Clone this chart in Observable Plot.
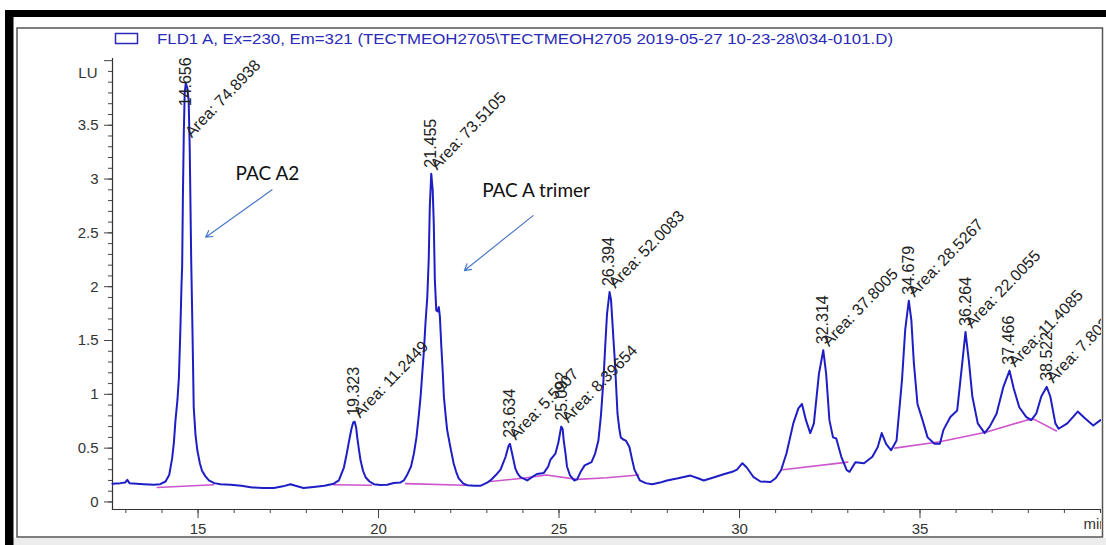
<!DOCTYPE html>
<html>
<head>
<meta charset="utf-8">
<script src="https://cdn.jsdelivr.net/npm/d3@7"></script>
<script src="https://cdn.jsdelivr.net/npm/@observablehq/plot@0.6"></script>
<style>
  html, body { margin: 0; padding: 0; background: #fff; }
  #chart { width: 1106px; height: 545px; }
</style>
</head>
<body>
<div id="chart"></div>
<script>
// ---------- data ----------
const legendText = "FLD1 A, Ex=230, Em=321 (TECTMEOH2705\\TECTMEOH2705 2019-05-27 10-23-28\\034-0101.D)";

// detector trace: [time (min), signal (LU)]
const trace = [
  [12.63,0.17],[12.85,0.175],[12.98,0.18],[13.04,0.205],[13.1,0.175],[13.3,0.17],[13.5,0.165],[13.77,0.16],
  [13.95,0.165],[14.1,0.19],[14.2,0.25],[14.28,0.40],[14.33,0.55],[14.375,0.76],[14.43,0.95],[14.47,1.16],
  [14.51,1.6],[14.54,2.0],[14.56,2.19],[14.58,2.83],[14.605,3.42],[14.63,3.80],[14.66,3.89],[14.7,3.85],
  [14.74,3.73],[14.77,3.27],[14.81,2.25],[14.84,1.7],[14.86,1.3],[14.88,0.88],[14.93,0.62],[14.98,0.48],
  [15.05,0.36],[15.11,0.29],[15.2,0.24],[15.3,0.20],[15.45,0.175],[15.62,0.165],[15.9,0.16],[16.2,0.15],
  [16.5,0.135],[16.8,0.13],[17.1,0.13],[17.35,0.145],[17.56,0.165],[17.7,0.15],[17.92,0.13],[18.2,0.14],
  [18.5,0.15],[18.76,0.17],[18.9,0.2],[19.04,0.32],[19.12,0.45],[19.18,0.56],[19.25,0.68],[19.3,0.74],
  [19.34,0.745],[19.38,0.69],[19.41,0.6],[19.46,0.48],[19.5,0.39],[19.57,0.29],[19.64,0.23],[19.75,0.19],
  [19.87,0.165],[20.05,0.158],[20.24,0.16],[20.42,0.177],[20.6,0.18],[20.7,0.2],[20.79,0.25],[20.9,0.33],
  [20.98,0.45],[21.05,0.6],[21.12,0.82],[21.17,1.0],[21.21,1.19],[21.26,1.42],[21.3,1.66],[21.35,1.9],
  [21.39,2.25],[21.42,2.74],[21.46,3.05],[21.5,2.9],[21.53,2.59],[21.56,2.06],[21.6,1.78],[21.64,1.77],
  [21.67,1.81],[21.7,1.72],[21.74,1.44],[21.78,1.2],[21.81,0.98],[21.86,0.8],[21.9,0.67],[21.99,0.51],
  [22.08,0.36],[22.15,0.28],[22.22,0.22],[22.35,0.17],[22.46,0.155],[22.65,0.15],[22.82,0.15],[23.01,0.18],
  [23.1,0.2],[23.25,0.25],[23.38,0.3],[23.52,0.42],[23.6,0.52],[23.64,0.54],[23.7,0.45],[23.79,0.31],
  [23.86,0.26],[23.93,0.23],[24.12,0.2],[24.25,0.23],[24.39,0.26],[24.58,0.27],[24.7,0.33],[24.76,0.39],
  [24.9,0.45],[24.98,0.55],[25.06,0.70],[25.1,0.68],[25.13,0.57],[25.18,0.45],[25.22,0.33],[25.3,0.25],
  [25.42,0.2],[25.5,0.21],[25.6,0.28],[25.71,0.34],[25.9,0.37],[26.0,0.45],[26.09,0.57],[26.16,0.8],
  [26.23,1.13],[26.28,1.45],[26.33,1.75],[26.4,1.95],[26.44,1.88],[26.47,1.72],[26.51,1.5],[26.55,1.29],
  [26.62,0.82],[26.67,0.68],[26.71,0.60],[26.78,0.58],[26.85,0.57],[26.95,0.51],[27.02,0.4],[27.09,0.3],
  [27.24,0.2],[27.4,0.175],[27.58,0.165],[27.8,0.18],[27.99,0.2],[28.3,0.22],[28.64,0.245],[28.85,0.22],
  [29.01,0.2],[29.3,0.23],[29.56,0.257],[29.8,0.28],[29.93,0.3],[30.08,0.36],[30.2,0.32],[30.39,0.23],
  [30.58,0.19],[30.86,0.186],[31.0,0.22],[31.15,0.295],[31.3,0.45],[31.49,0.73],[31.63,0.87],[31.73,0.91],
  [31.84,0.76],[31.96,0.64],[32.06,0.73],[32.2,1.19],[32.32,1.41],[32.4,1.19],[32.49,0.76],[32.59,0.60],
  [32.68,0.59],[32.82,0.42],[32.97,0.295],[33.05,0.28],[33.21,0.37],[33.45,0.36],[33.68,0.42],[33.83,0.51],
  [33.94,0.64],[34.06,0.54],[34.2,0.48],[34.35,0.57],[34.5,1.13],[34.59,1.6],[34.69,1.87],[34.76,1.69],
  [34.83,1.29],[34.93,0.91],[35.07,0.76],[35.21,0.6],[35.4,0.54],[35.55,0.54],[35.65,0.67],[35.84,0.79],
  [36.03,0.85],[36.17,1.29],[36.26,1.58],[36.36,1.29],[36.45,0.98],[36.6,0.73],[36.79,0.64],[36.93,0.70],
  [37.12,0.82],[37.31,1.07],[37.48,1.22],[37.6,1.05],[37.75,0.88],[37.94,0.79],[38.08,0.76],[38.22,0.82],
  [38.36,0.98],[38.51,1.07],[38.61,0.98],[38.75,0.73],[38.84,0.68],[39.08,0.73],[39.37,0.84],[39.56,0.78],
  [39.8,0.71],[40.0,0.76]
];

// integration baselines: [segment, time, signal]
const baseline = [
  [1,13.87,0.135],[1,15.43,0.16],
  [2,18.76,0.16],[2,19.8,0.155],
  [3,20.75,0.17],[3,22.4,0.155],
  [4,23.1,0.19],[4,24.0,0.22],[4,24.65,0.25],[4,25.5,0.21],[4,26.33,0.225],[4,27.2,0.25],
  [5,31.2,0.30],[5,33.0,0.37],
  [6,34.3,0.50],[6,35.55,0.56],[6,36.85,0.65],[6,37.95,0.76],[6,38.15,0.77],[6,38.78,0.66]
];

// peaks
const peakTimes = ["14.656","19.323","21.455","23.634","25.092","26.394","32.314","34.679","36.264","37.466","38.522"];
const peakAreas = ["74.8938","11.2449","73.5105","5.5907","8.39654","52.0083","37.8005","28.5267","22.0055","11.4085","7.80253"];
const peakHeights = [3.89,0.745,3.05,0.54,0.70,1.95,1.41,1.87,1.58,1.22,1.07];

// annotations
const noteLabels = ["PAC A2","PAC A trimer"];
const noteAt = [[16.04,2.99],[22.87,2.83]];
const arrowFrom = [[17.05,2.90],[24.28,2.66]];
const arrowTo = [[15.21,2.46],[22.38,2.15]];

// ticks
const yMajorTicks = [0,0.5,1,1.5,2,2.5,3,3.5];
const yTopTick = [4.1];
const xMajorTicks = [15,20,25,30,35];
const xMinorTicks = d3.range(13,41,1);
const yMinorTicks = d3.range(0,41,1).map(d => d/10);

// ---------- tables ----------
const peaks = peakTimes.map((t,i) => ({
  t: +t, label: t, area: "Area: " + peakAreas[i],
  h: peakHeights[i],
  hl: Math.min(peakHeights[i], 3.62),
  ha: Math.min(peakHeights[i], 3.35)
}));
const notes = noteLabels.map((l,i) => ({label:l, t:noteAt[i][0], v:noteAt[i][1]}));
const arrows = arrowFrom.map((a,i) => ({x1:a[0], y1:a[1], x2:arrowTo[i][0], y2:arrowTo[i][1]}));

const font = "'Liberation Sans', Arial, sans-serif";

const chart = Plot.plot({
  width: 1106, height: 545,
  marginLeft: 112, marginRight: 6, marginTop: 58, marginBottom: 36,
  x: {domain: [12.63, 40]},
  y: {domain: [-0.07, 4.12]},
  style: {fontFamily: font, background: "#fff", overflow: "visible", color: "#333"},
  marks: [
    Plot.axisY(yMinorTicks, {tickSize: 4, text: null, label: null, stroke: "#444"}),
    Plot.axisY(yTopTick, {tickSize: 8, text: null, label: null, stroke: "#444"}),
    Plot.axisY(yMajorTicks, {tickSize: 8, tickPadding: 6, fontSize: 15, label: null, stroke: "#444", fill: "#333", tickFormat: d => String(d)}),
    Plot.axisX(xMinorTicks, {tickSize: 4, text: null, label: null, stroke: "#444"}),
    Plot.axisX(xMajorTicks, {tickSize: 9, tickPadding: 5, fontSize: 15, label: null, stroke: "#444", fill: "#333", tickFormat: d => String(d)}),
    Plot.frame({anchor: "left", stroke: "#333", strokeWidth: 1.2}),
    Plot.frame({anchor: "bottom", stroke: "#333", strokeWidth: 1.2}),
    Plot.text(["LU"], {frameAnchor: "top-left", dx: -15, dy: 9, textAnchor: "end", fontSize: 15, fill: "#333"}),
    Plot.text(["min"], {frameAnchor: "bottom-right", dx: -17, dy: 19, textAnchor: "start", fontSize: 15, fill: "#333"}),
    Plot.line(baseline, {x: d => d[1], y: d => d[2], z: d => d[0], stroke: "#cc55cc", strokeWidth: 1.6}),
    Plot.line(trace, {x: d => d[0], y: d => d[1], stroke: "#1e1ec4", strokeWidth: 2, curve: "linear"}),
    Plot.text(peaks, {x: "t", y: "hl", text: "label", rotate: -90, textAnchor: "start", lineAnchor: "middle", dy: -6, fontSize: 16, fill: "#222"}),
    Plot.text(peaks, {x: "t", y: "ha", text: "area", rotate: -46, textAnchor: "start", lineAnchor: "bottom", dx: 6, dy: -3, fontSize: 16, fill: "#222"}),
    Plot.text(notes, {x: "t", y: "v", text: "label", textAnchor: "start", lineAnchor: "bottom", fontSize: 19, fontFamily: "Lato, 'Open Sans', sans-serif", fill: "#111"}),
    Plot.arrow(arrows, {x1: "x1", y1: "y1", x2: "x2", y2: "y2", stroke: "#4a78c8", strokeWidth: 1.2, headLength: 9})
  ]
});

document.getElementById("chart").appendChild(chart);

// ---------- page frame & legend ----------
const svg = d3.select(chart);
const g = svg.append("g").attr("text-anchor", "start");
g.append("rect").attr("x", 1101).attr("y", 17).attr("width", 5).attr("height", 528).attr("fill", "#fff");
g.append("rect").attr("x", 0).attr("y", 538).attr("width", 1106).attr("height", 7).attr("fill", "#ececec");
g.append("rect").attr("x", 0).attr("y", 0).attr("width", 1106).attr("height", 10).attr("fill", "#fff");
g.append("rect").attr("x", 0).attr("y", 0).attr("width", 5).attr("height", 545).attr("fill", "#fff");
g.append("rect").attr("x", 5).attr("y", 10).attr("width", 1101).attr("height", 7).attr("fill", "#000");
g.append("rect").attr("x", 5).attr("y", 10).attr("width", 8.5).attr("height", 535).attr("fill", "#000");
g.append("rect").attr("x", 17).attr("y", 28).attr("width", 1085.5).attr("height", 509)
  .attr("fill", "none").attr("stroke", "#555").attr("stroke-width", 1.5);
// legend
g.append("rect").attr("x", 115.5).attr("y", 33.5).attr("width", 22).attr("height", 10)
  .attr("fill", "none").attr("stroke", "#2a2ab8").attr("stroke-width", 1.5);
g.append("text").attr("x", 157).attr("y", 43.5).attr("font-family", font).attr("font-size", 14)
  .attr("text-anchor", "start")
  .attr("fill", "#2a2ab8").attr("textLength", 736).attr("lengthAdjust", "spacingAndGlyphs")
  .text(legendText);
</script>
</body>
</html>
